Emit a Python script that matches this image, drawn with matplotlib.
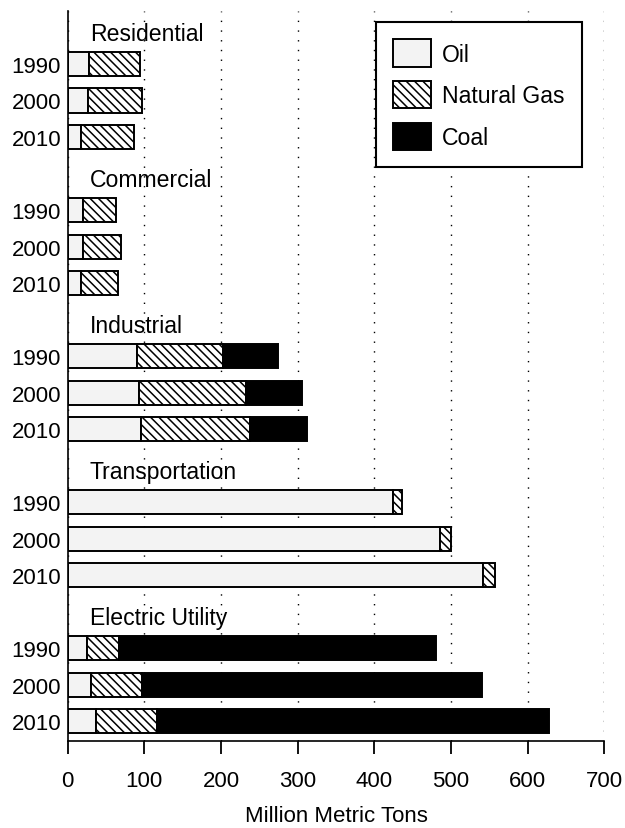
import matplotlib
matplotlib.use("Agg")
import matplotlib.pyplot as plt
import numpy as np

plt.rcParams['font.family'] = ['Liberation Sans', 'DejaVu Sans']
plt.rcParams['hatch.linewidth'] = 1.1

sectors = ['Residential', 'Commercial', 'Industrial', 'Transportation', 'Electric Utility']
years = ['1990', '2000', '2010']
oil = {'Residential': [28, 26, 18], 'Commercial': [20, 20, 17], 'Industrial': [90, 93, 96],
       'Transportation': [424, 486, 542], 'Electric Utility': [25, 30, 37]}
gas = {'Residential': [66, 71, 69], 'Commercial': [43, 49, 49], 'Industrial': [113, 140, 142],
       'Transportation': [12, 14, 15], 'Electric Utility': [42, 67, 80]}
coal = {'Residential': [0, 0, 0], 'Commercial': [0, 0, 0], 'Industrial': [71, 72, 74],
        'Transportation': [0, 0, 0], 'Electric Utility': [414, 444, 511]}
xticks = [0, 100, 200, 300, 400, 500, 600, 700]

FS = 16
FS2 = 16.6
fig = plt.figure(figsize=(6.25, 8.29), dpi=100)
ax = fig.add_axes([0.1083, 0.1049, 0.8586, 0.8806])

ypos, ylabels, o_v, g_v, c_v = [], [], [], [], []
label_pos = []
slot = 0
for s in sectors:
    label_pos.append(slot)
    slot += 1
    for i, yr in enumerate(years):
        ypos.append(slot)
        ylabels.append(yr)
        o_v.append(oil[s][i]); g_v.append(gas[s][i]); c_v.append(coal[s][i])
        slot += 1
ypos = np.array(ypos); o_v = np.array(o_v); g_v = np.array(g_v); c_v = np.array(c_v)

h = 0.66
b1 = ax.barh(ypos, o_v, height=h, color='#f3f3f3', edgecolor='black', linewidth=1.4, label='Oil', zorder=2)
b2 = ax.barh(ypos, g_v, left=o_v, height=h, color='white', edgecolor='black', hatch='\\\\\\\\',
             linewidth=1.4, label='Natural Gas', zorder=2)
mask = c_v > 0
b3 = ax.barh(ypos[mask], c_v[mask], left=(o_v + g_v)[mask], height=h, color='black', edgecolor='black',
             linewidth=1.4, label='Coal', zorder=2)

for s, p in zip(sectors, label_pos):
    ax.text(29, p + 0.34, s, fontsize=FS2, ha='left', va='baseline')

ax.set_xlim(0, 700)
ax.set_ylim(19.54, -0.45)
ax.set_xticks(xticks)
ax.set_xticklabels([str(t) for t in xticks], fontsize=FS)
ax.set_yticks(ypos)
ax.set_yticklabels(ylabels, fontsize=FS)
ax.tick_params(axis='y', length=0, pad=4.8)
ax.tick_params(axis='x', direction='out', length=9.5, width=1.3, pad=11)
for sp in ['top', 'right']:
    ax.spines[sp].set_visible(False)
for sp in ['left', 'bottom']:
    ax.spines[sp].set_linewidth(1.2)
ax.set_axisbelow(True)
ax.xaxis.grid(True, linestyle=(0, (1, 6)), color='black', linewidth=1)

ax.set_xlabel('Million Metric Tons', fontsize=FS)
ax.xaxis.set_label_coords(0.5, -0.088)

leg = ax.legend(handles=[b1, b2, b3], loc='upper left', bbox_to_anchor=(0.6016, 0.9723),
                bbox_transform=fig.transFigure, fontsize=FS2, frameon=True, fancybox=False,
                framealpha=1, edgecolor='black', borderpad=0.75, handlelength=1.65,
                handleheight=1.45, labelspacing=0.62, handletextpad=0.45, borderaxespad=0)
leg.get_frame().set_linewidth(1.5)

fig.savefig('out.png', dpi=100)
